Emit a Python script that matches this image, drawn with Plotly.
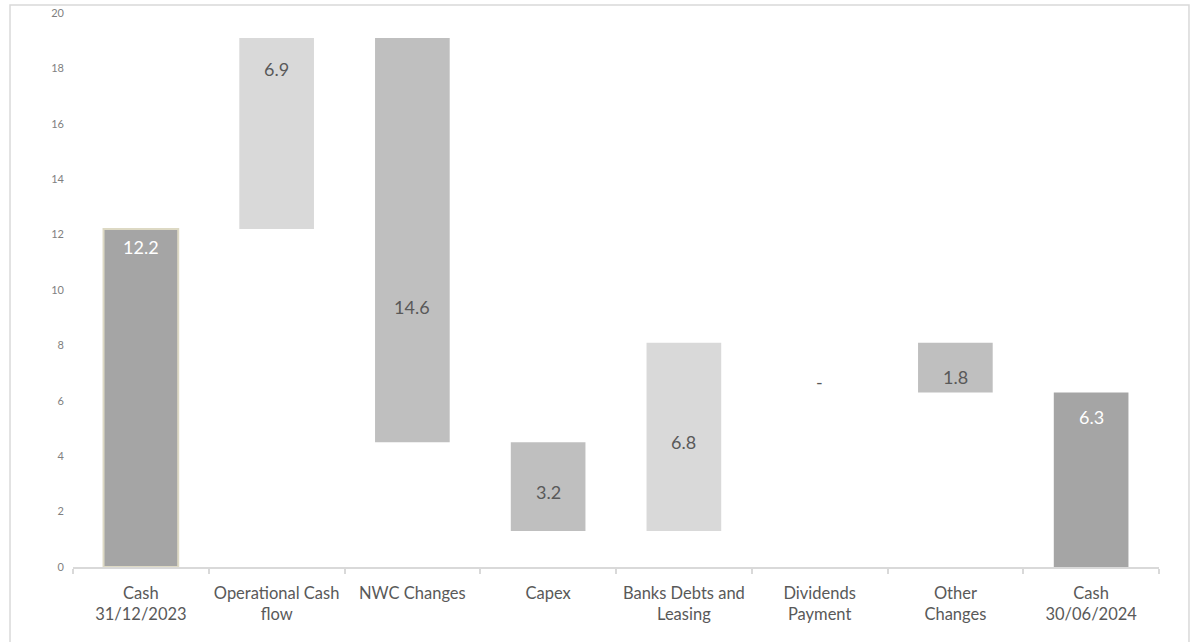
import plotly.graph_objects as go

# ---- data ----
categories = ["Cash<br>31/12/2023", "Operational Cash<br>flow", "NWC Changes", "Capex",
              "Banks Debts and<br>Leasing", "Dividends<br>Payment", "Other<br>Changes",
              "Cash<br>30/06/2024"]
start_cash = 12.2
changes = [6.9, -14.6, -3.2, 6.8, 0.0, -1.8]
end_cash = 6.3
y_ticks = list(range(0, 21, 2))

# ---- derive bar bases/heights from data ----
bases, heights, kinds = [0.0], [start_cash], ["total"]
level = start_cash
for c in changes:
    lo = min(level, level + c)
    bases.append(lo)
    heights.append(abs(c))
    kinds.append("up" if c > 0 else ("down" if c < 0 else "zero"))
    level += c
bases.append(0.0)
heights.append(end_cash)
kinds.append("total")

color_map = {"total": "#A5A5A5", "up": "#D9D9D9", "down": "#BFBFBF", "zero": "rgba(0,0,0,0)"}
colors = [color_map[k] for k in kinds]
line_colors = ["#DDD9C4"] + ["rgba(0,0,0,0)"] * (len(categories) - 1)
line_widths = [2] + [0] * (len(categories) - 1)

fig = go.Figure()
fig.add_trace(go.Bar(
    x=categories, y=heights, base=bases,
    marker=dict(color=colors, line=dict(color=line_colors, width=line_widths)),
    width=0.55, hoverinfo="skip", showlegend=False,
))

# data labels
label_frac = [0.947, 0.84, 0.335, 0.44, 0.47, 0.0, 0.31, 0.857]
vals = [start_cash] + changes + [end_cash]
for i, (cat, b, h, k, v) in enumerate(zip(categories, bases, heights, kinds, vals)):
    txt = "-" if v == 0 else f"{abs(v):.1f}"
    col = "#FFFFFF" if k == "total" else "#595959"
    fig.add_annotation(
        x=cat, y=b + label_frac[i] * h, text=txt, showarrow=False,
        font=dict(family="Lato, Carlito, sans-serif", size=18, color=col),
        yshift=-39 if k == "zero" else 0,
    )

# outer frame
fig.add_shape(type="rect", xref="paper", yref="paper",
              x0=-0.058, x1=1.0276, y0=-0.2, y1=1.0144,
              line=dict(color="#D9D9D9", width=1.5), fillcolor="rgba(0,0,0,0)", layer="below")

fig.update_layout(
    width=1196, height=642,
    margin=dict(l=73, r=37, t=13, b=75),
    paper_bgcolor="white", plot_bgcolor="white",
    font=dict(family="Lato, Carlito, sans-serif", color="#595959"),
    bargap=0.45,
    xaxis=dict(
        type="category", showgrid=False, showline=True, linecolor="#D9D9D9", linewidth=1.5,
        ticks="outside", tickson="boundaries", ticklen=5, tickcolor="#D9D9D9", tickwidth=1.5,
        tickfont=dict(size=16.5, color="#595959"), range=[-0.5, len(categories) - 0.5],
        automargin=False, ticklabelstandoff=10, tickangle=0,
    ),
    yaxis=dict(
        range=[0, 20], tickvals=y_ticks, showgrid=False, zeroline=False, showline=False,
        tickfont=dict(size=11, color="#7F7F7F"), ticks="", ticklabelstandoff=8,
        automargin=False,
    ),
)

fig.write_html("out.html", config={"displayModeBar": False},
               post_script="document.body.style.margin='0px';")
